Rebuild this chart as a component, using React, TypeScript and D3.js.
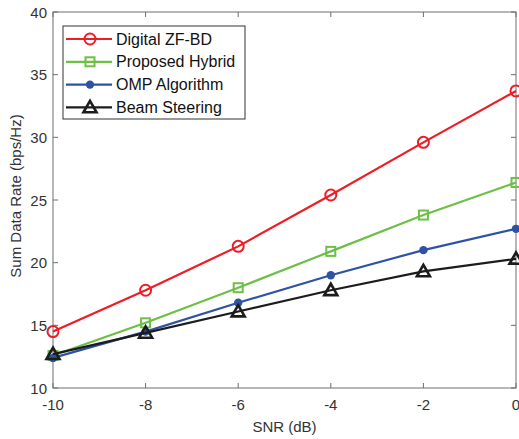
import React, { useEffect, useRef } from 'react';
import * as d3 from 'd3';

const snr = [-10, -8, -6, -4, -2, 0];
const digitalZF = [14.5, 17.8, 21.3, 25.4, 29.6, 33.7];
const proposedHybrid = [12.6, 15.2, 18.0, 20.9, 23.8, 26.4];
const ompAlgorithm = [12.4, 14.5, 16.8, 19.0, 21.0, 22.7];
const beamSteering = [12.7, 14.4, 16.1, 17.8, 19.3, 20.3];
const seriesNames = ['Digital ZF-BD', 'Proposed Hybrid', 'OMP Algorithm', 'Beam Steering'];
const xTicks = [-10, -8, -6, -4, -2, 0];
const yTicks = [10, 15, 20, 25, 30, 35, 40];

const colors = ['#ee1d25', '#6dbf45', '#2e53a5', '#1c1c1c'];
const markers = ['circleOpen', 'square', 'dot', 'triangle'];

export default function App() {
  const ref = useRef<SVGSVGElement>(null);

  useEffect(() => {
    const W = 519, H = 439;
    const margin = { top: 12, right: 3, bottom: 51, left: 53 };
    const width = W - margin.left - margin.right;
    const height = H - margin.top - margin.bottom;
    const root = d3.select(ref.current);
    root.selectAll('*').remove();
    const svg = root.append('g').attr('transform', `translate(${margin.left},${margin.top})`);
    const font = 'Liberation Sans, Arial, sans-serif';

    const x = d3.scaleLinear().domain([-10, 0]).range([0, width]);
    const y = d3.scaleLinear().domain([10, 40]).range([height, 0]);

    // frame
    svg.append('rect').attr('width', width).attr('height', height)
      .attr('fill', 'white').attr('stroke', '#6e6e6e').attr('stroke-width', 1);

    // ticks (inward, mirrored)
    const tickLen = 5;
    xTicks.forEach(t => {
      svg.append('line').attr('x1', x(t)).attr('x2', x(t)).attr('y1', height).attr('y2', height - tickLen).attr('stroke', '#6e6e6e');
      svg.append('line').attr('x1', x(t)).attr('x2', x(t)).attr('y1', 0).attr('y2', tickLen).attr('stroke', '#6e6e6e');
      svg.append('text').attr('x', x(t)).attr('y', height + 22).attr('text-anchor', 'middle')
        .style('font-family', font).style('font-size', '15px').attr('fill', '#333').text(t);
    });
    yTicks.forEach(t => {
      svg.append('line').attr('x1', 0).attr('x2', tickLen).attr('y1', y(t)).attr('y2', y(t)).attr('stroke', '#6e6e6e');
      svg.append('line').attr('x1', width).attr('x2', width - tickLen).attr('y1', y(t)).attr('y2', y(t)).attr('stroke', '#6e6e6e');
      svg.append('text').attr('x', -6).attr('y', y(t) + 5.5).attr('text-anchor', 'end')
        .style('font-family', font).style('font-size', '15px').attr('fill', '#333').text(t);
    });

    svg.append('text').attr('x', width / 2).attr('y', height + 44).attr('text-anchor', 'middle')
      .style('font-family', font).style('font-size', '15px').attr('fill', '#333').text('SNR (dB)');
    svg.append('text').attr('transform', `translate(${-32},${height / 2 - 4}) rotate(-90)`).attr('text-anchor', 'middle')
      .style('font-family', font).style('font-size', '15px').attr('fill', '#333').text('Sum Data Rate (bps/Hz)');

    const drawMarker = (g: any, kind: string, cx: number, cy: number, color: string) => {
      if (kind === 'circleOpen') {
        g.append('circle').attr('cx', cx).attr('cy', cy).attr('r', 5.5)
          .attr('fill', 'none').attr('stroke', color).attr('stroke-width', 2);
      } else if (kind === 'square') {
        g.append('rect').attr('x', cx - 4.5).attr('y', cy - 4.5).attr('width', 9).attr('height', 9)
          .attr('fill', 'none').attr('stroke', color).attr('stroke-width', 2);
      } else if (kind === 'dot') {
        g.append('circle').attr('cx', cx).attr('cy', cy).attr('r', 4.2).attr('fill', color);
      } else {
        const s = 6.5;
        g.append('path').attr('d', `M${cx},${cy - s} L${cx + s},${cy + s * 0.75} L${cx - s},${cy + s * 0.75} Z`)
          .attr('fill', 'none').attr('stroke', color).attr('stroke-width', 2.6).attr('stroke-linejoin', 'miter');
      }
    };

    const allSeries = [digitalZF, proposedHybrid, ompAlgorithm, beamSteering];
    const line = d3.line<number>().x((d, i) => x(snr[i])).y(d => y(d));
    allSeries.forEach((vals, k) => {
      const g = svg.append('g');
      g.append('path').datum(vals).attr('d', line).attr('fill', 'none')
        .attr('stroke', colors[k]).attr('stroke-width', 2.2);
      vals.forEach((v, i) => drawMarker(g, markers[k], x(snr[i]), y(v), colors[k]));
    });

    // legend
    const lg = svg.append('g').attr('transform', 'translate(10,14)');
    lg.append('rect').attr('width', 182).attr('height', 93).attr('fill', 'white')
      .attr('stroke', '#333').attr('stroke-width', 1);
    seriesNames.forEach((name, k) => {
      const cy = 13 + k * 22.8;
      lg.append('line').attr('x1', 3).attr('x2', 49).attr('y1', cy).attr('y2', cy)
        .attr('stroke', colors[k]).attr('stroke-width', 2.2);
      drawMarker(lg, markers[k], 27, cy, colors[k]);
      lg.append('text').attr('x', 53).attr('y', cy + 5.5)
        .style('font-family', font).style('font-size', '16px').attr('fill', '#111').text(name);
    });
  }, []);

  return (
    <svg ref={ref} width={519} height={439}
      style={{ position: 'absolute', left: 0, top: 0, background: 'white' }} />
  );
}
